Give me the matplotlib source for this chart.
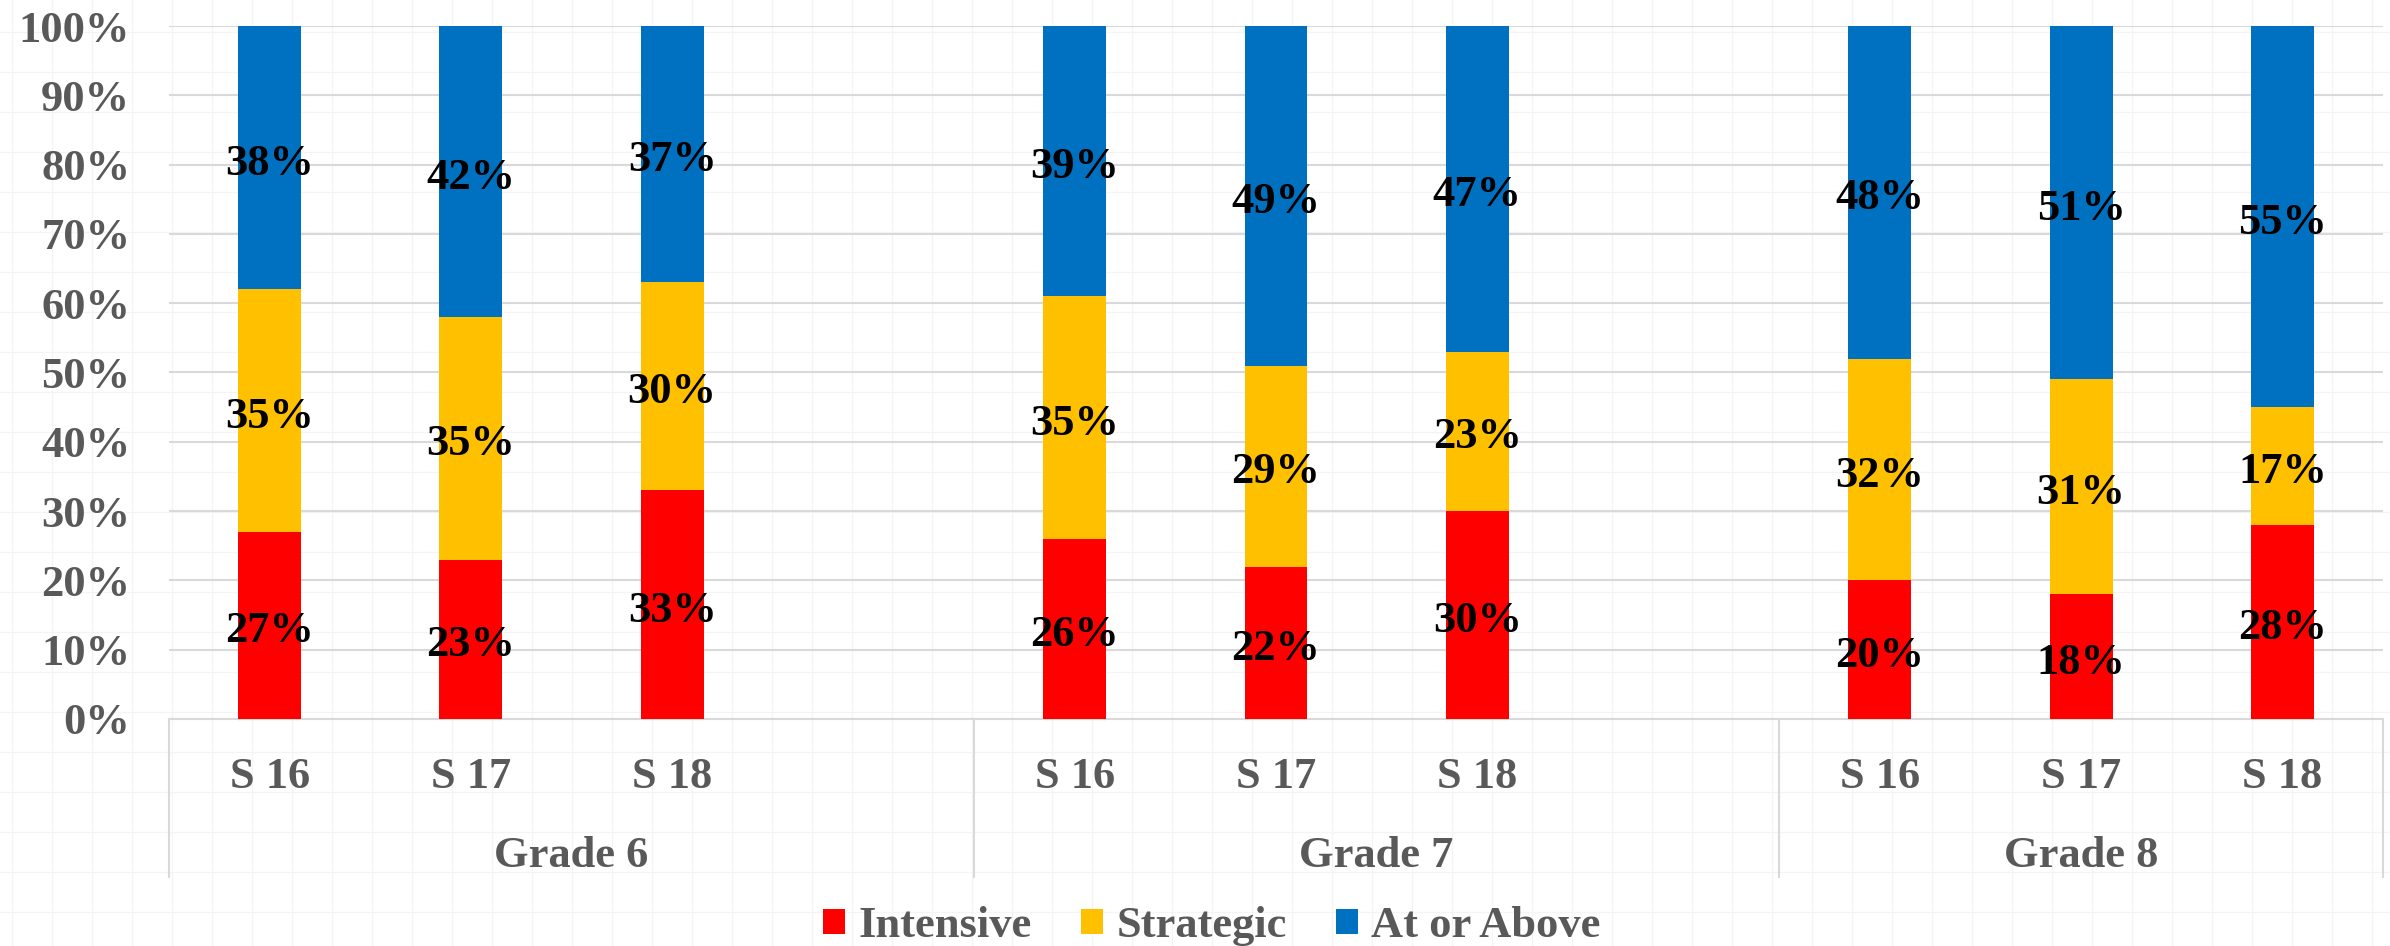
import matplotlib
matplotlib.use("Agg")
import matplotlib.pyplot as plt
import matplotlib.transforms as mtransforms
from matplotlib.lines import Line2D
from matplotlib.patches import Patch

# ---- data ----
grades = ["Grade 6", "Grade 7", "Grade 8"]
seasons = ["S 16", "S 17", "S 18"]
intensive = [27, 23, 33, 26, 22, 30, 20, 18, 28]
strategic = [35, 35, 30, 35, 29, 23, 32, 31, 17]
at_or_above = [38, 42, 37, 39, 49, 47, 48, 51, 55]
series_names = ["Intensive", "Strategic", "At or Above"]
yticks = [0, 10, 20, 30, 40, 50, 60, 70, 80, 90, 100]

colors = ["#FF0000", "#FFC000", "#0070C0"]
text_gray = "#595959"
grid_gray = "#D9D9D9"

plt.rcParams['font.family'] = ['Liberation Serif', 'DejaVu Serif']
plt.rcParams['font.weight'] = 'bold'
FS = 32

W, H = 2390, 946
fig = plt.figure(figsize=(W / 100, H / 100), dpi=100)

# faint spreadsheet cell grid in the background
for x in range(12, W, 40):
    fig.add_artist(Line2D([x / W, x / W], [0, 1], transform=fig.transFigure,
                          color="#F4F4F4", lw=0.9, zorder=-10))
for y in range(32, H, 40):
    fig.add_artist(Line2D([0, 1], [1 - y / H, 1 - y / H], transform=fig.transFigure,
                          color="#F4F4F4", lw=0.9, zorder=-10))

left, right, top, bottom = 169, 2383, 26, 719
ax = fig.add_axes([left / W, 1 - bottom / H, (right - left) / W, (bottom - top) / H])
ax.set_facecolor("none")

# positions: 4 slots per grade (4th slot empty), last grade has 3
positions = []
for g in range(len(grades)):
    for s in range(len(seasons)):
        positions.append(g * 4 + s)

bw = 0.313
series = [intensive, strategic, at_or_above]
label_tr = mtransforms.offset_copy(ax.transData, fig=fig, x=0, y=-6, units='dots')
bottoms = [0] * len(positions)
for vals, col, name in zip(series, colors, series_names):
    ax.bar(positions, vals, bw, bottom=bottoms, color=col, label=name, zorder=3)
    for p, v, b in zip(positions, vals, bottoms):
        ax.text(p, b + v / 2, f"{v}%", ha="center", va="center", transform=label_tr,
                fontsize=FS, fontweight="bold", color="black", zorder=5)
    bottoms = [b + v for b, v in zip(bottoms, vals)]

ax.set_xlim(-0.5, 10.5)
ax.set_ylim(0, 100)
ax.set_yticks(yticks)
ax.set_yticklabels([f"{t}%" for t in yticks], fontsize=FS, fontweight="bold", color=text_gray)
ax.tick_params(axis="y", length=0, pad=28)
ax.set_xticks([])
ax.yaxis.grid(True, color=grid_gray, lw=1.5, zorder=0)
ax.set_axisbelow(True)
for sp in ["top", "right", "left"]:
    ax.spines[sp].set_visible(False)
ax.spines["bottom"].set_color(grid_gray)
ax.spines["bottom"].set_linewidth(1.5)

trans = mtransforms.blended_transform_factory(ax.transData, ax.transAxes)
ph = bottom - top
sep_bottom = -(877 - bottom) / ph
for xs in [-0.5, 3.5, 7.5, 10.5]:
    ax.add_line(Line2D([xs, xs], [0, sep_bottom], transform=trans, color=grid_gray,
                       lw=1.5, clip_on=False))

tick_y = -(777 - bottom) / ph
grade_y = -(856 - bottom) / ph
for p, i in zip(positions, range(len(positions))):
    ax.text(p, tick_y, seasons[i % 3], transform=trans, ha="center", va="center",
            fontsize=FS, fontweight="bold", color=text_gray)
group_centers = [1.5, 5.5, 9.0]
for gc, g in zip(group_centers, grades):
    ax.text(gc, grade_y, g, transform=trans, ha="center", va="center",
            fontsize=FS, fontweight="bold", color=text_gray)

handles = [Patch(facecolor=c, edgecolor="none") for c in colors]
leg = fig.legend(handles, series_names, loc="center", bbox_to_anchor=(0.507, 1 - 926 / H),
                 ncol=3, frameon=False, fontsize=FS, handlelength=0.5, handleheight=0.5,
                 handletextpad=0.3, columnspacing=1.1, borderaxespad=0, borderpad=0)
for t in leg.get_texts():
    t.set_color(text_gray)
    t.set_fontweight("bold")

fig.savefig("out.png", dpi=100)
